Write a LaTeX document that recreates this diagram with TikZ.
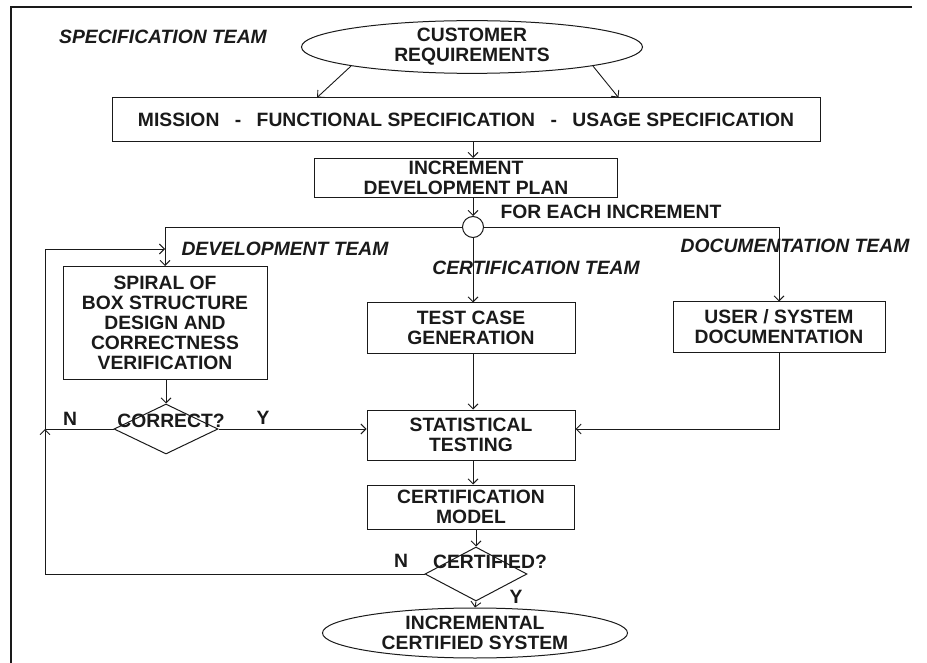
\documentclass[tikz,border=0pt]{standalone}
\usepackage{fontspec}
\setmainfont{Liberation Sans}
\usetikzlibrary{arrows.meta,calc,positioning,shapes.geometric}
\definecolor{crink}{HTML}{1A1A1A}
\tikzset{
  cr text/.style={font=\fontsize{19.3}{20}\selectfont\bfseries, text=crink},
  cr box/.style={draw=crink, line width=1pt, inner sep=1pt, align=center, cr text},
  cr oval/.style={ellipse, draw=crink, line width=1pt, inner sep=0pt, align=center, cr text},
  cr decision/.style={diamond, draw=crink, line width=1pt, inner sep=0pt},
  cr split/.style={circle, draw=crink, line width=1pt, minimum size=21pt, inner sep=0pt},
  cr arrow/.style={-{Straight Barb[length=5pt,width=10pt]}, line width=0.9pt, draw=crink},
  cr team/.style={font=\fontsize{19.3}{20}\selectfont\bfseries\itshape, text=crink},
  cr label/.style={cr text, inner sep=1pt},
  cr frame/.style={draw=crink, line width=1.8pt}
}
\begin{document}
\begin{tikzpicture}[x=1pt, y=-1pt]
  \useasboundingbox (0,0) rectangle (927,663);
  \draw[cr frame] (912,7) -- (11,7) -- (11,663);
  % specification team
  \node[cr team] (specteam) at (163,37) {SPECIFICATION TEAM};
  \node[cr oval, minimum width=341pt, minimum height=50pt] (cust) at (472,47) {CUSTOMER\\REQUIREMENTS};
  \node[cr box, minimum width=708pt, minimum height=44pt] (mission) at (466,120)
    {MISSION\hspace{0.8em}-\hspace{0.8em}FUNCTIONAL SPECIFICATION\hspace{0.8em}-\hspace{0.8em}USAGE SPECIFICATION};
  \node[cr box, minimum width=303pt, minimum height=39pt] (incr) at (466,178) {INCREMENT\\DEVELOPMENT PLAN};
  \node[cr split] (split) at (473,227) {};
  \node[cr label] (each) at (611,212) {FOR EACH INCREMENT};
  \draw[cr arrow] (cust.south west) -- ($(mission.north west)!0.29!(mission.north east)$);
  \draw[cr arrow] (cust.south east) -- ($(mission.north west)!0.715!(mission.north east)$);
  \draw[cr arrow] (mission.south -| split) -- (incr.north -| split);
  \draw[cr arrow] (incr.south -| split) -- (split.north);
  % three teams
  \node[cr team] (devteam) at (285,249) {DEVELOPMENT TEAM};
  \node[cr team] (certteam) at (536,268) {CERTIFICATION TEAM};
  \node[cr team] (docteam) at (795,246) {DOCUMENTATION TEAM};
  \node[cr box, minimum width=204pt, minimum height=113pt] (devbox) at (165,323)
    {SPIRAL OF\\BOX STRUCTURE\\DESIGN AND\\CORRECTNESS\\VERIFICATION};
  \node[cr box, minimum width=208pt, minimum height=50pt] (test) at (471,328) {TEST CASE\\GENERATION};
  \node[cr box, minimum width=212pt, minimum height=50pt] (docbox) at (779,327) {USER / SYSTEM\\DOCUMENTATION};
  \draw[cr arrow] (split.west) -| (devbox.north);
  \draw[cr arrow] (split.east) -| (docbox.north);
  \draw[cr arrow] (split.south) -- (test.north -| split);
  % correctness check
  \node[cr decision, minimum width=104pt, minimum height=50pt] (correct) at (166,429) {};
  \node[cr label] (correctlbl) at ([xshift=5pt,yshift=8pt]correct.center) {CORRECT?};
  \node[cr label] (correctn) at (70,419) {N};
  \node[cr label] (correcty) at (263,418) {Y};
  \draw[cr arrow] (devbox.south -| correct) -- (correct.north);
  % testing and certification
  \node[cr box, minimum width=208pt, minimum height=50pt] (stat) at (471,435) {STATISTICAL\\TESTING};
  \node[cr box, minimum width=207pt, minimum height=44pt] (certmodel) at (471,507) {CERTIFICATION\\MODEL};
  \node[cr decision, minimum width=102pt, minimum height=54pt] (certified) at (476,574) {};
  \node[cr label] (certifiedlbl) at ([xshift=14pt,yshift=12pt]certified.center) {CERTIFIED?};
  \node[cr label] (certifiedn) at (401,561) {N};
  \node[cr label] (certifiedy) at (516,597) {Y};
  \node[cr oval, minimum width=305pt, minimum height=50pt] (final) at (475,633) {INCREMENTAL\\CERTIFIED SYSTEM};
  \draw[cr arrow] (correct.east) -- (correct.east -| stat.west);
  \draw[cr arrow] (test.south -| split) -- (stat.north -| split);
  \draw[cr arrow] (docbox.south) |- (stat.east |- correct.east);
  \draw[cr arrow] (stat.south -| split) -- (certmodel.north -| split);
  \draw[cr arrow] (certmodel.south -| certified) -- (certified.north);
  \draw[cr arrow] (certified.south) -- (final.north);
  % feedback loops
  \coordinate (back) at (45,249);
  \coordinate (merge) at (back |- correct.west);
  \draw[cr arrow] (correct.west) -| (back) -- (devbox.north |- back);
  \draw[cr arrow] (certified.west) -| (merge);
\end{tikzpicture}
\end{document}
